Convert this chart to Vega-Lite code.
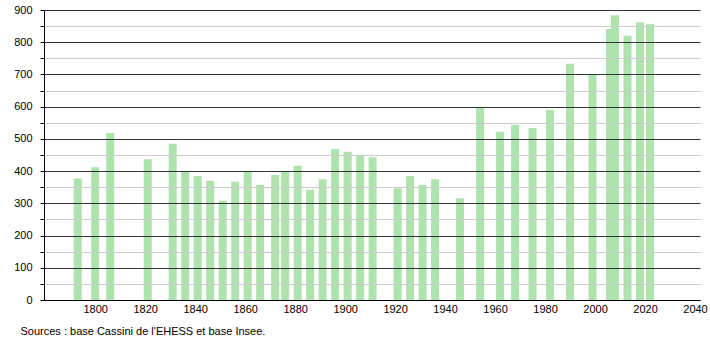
{
  "$schema": "https://vega.github.io/schema/vega-lite/v6.json",
  "autosize": {"type": "none"},
  "width": 656,
  "height": 290,
  "padding": {"left": 44, "top": 10, "right": 10, "bottom": 40},
  "background": "white",
  "config": {
    "view": {"stroke": null},
    "font": "Liberation Sans"
  },
  "data": {
    "values": [
      {"year": 1793, "pop": 377}, {"year": 1800, "pop": 412}, {"year": 1806, "pop": 518},
      {"year": 1821, "pop": 437}, {"year": 1831, "pop": 485}, {"year": 1836, "pop": 400},
      {"year": 1841, "pop": 385}, {"year": 1846, "pop": 370}, {"year": 1851, "pop": 308},
      {"year": 1856, "pop": 367}, {"year": 1861, "pop": 398}, {"year": 1866, "pop": 357},
      {"year": 1872, "pop": 388}, {"year": 1876, "pop": 400}, {"year": 1881, "pop": 417},
      {"year": 1886, "pop": 342}, {"year": 1891, "pop": 375}, {"year": 1896, "pop": 469},
      {"year": 1901, "pop": 460}, {"year": 1906, "pop": 449}, {"year": 1911, "pop": 443},
      {"year": 1921, "pop": 347}, {"year": 1926, "pop": 385}, {"year": 1931, "pop": 357},
      {"year": 1936, "pop": 375}, {"year": 1946, "pop": 316}, {"year": 1954, "pop": 597},
      {"year": 1962, "pop": 522}, {"year": 1968, "pop": 543}, {"year": 1975, "pop": 534},
      {"year": 1982, "pop": 590}, {"year": 1990, "pop": 733}, {"year": 1999, "pop": 698},
      {"year": 2006, "pop": 841}, {"year": 2008, "pop": 884}, {"year": 2013, "pop": 820},
      {"year": 2018, "pop": 862}, {"year": 2022, "pop": 856}
    ]
  },
  "mark": {"type": "bar", "size": 8, "color": "#aee3ae"},
  "encoding": {
    "x": {
      "field": "year",
      "type": "quantitative",
      "scale": {"domain": [1779.5, 2042], "nice": false, "zero": false, "padding": 0},
      "axis": {
        "values": [1800, 1820, 1840, 1860, 1880, 1900, 1920, 1940, 1960, 1980, 2000, 2020, 2040],
        "format": "d",
        "grid": false,
        "ticks": false,
        "labelPadding": 3,
        "labelFontSize": 11,
        "labelColor": "#000",
        "domainColor": "#000",
        "labelFlush": false,
        "zindex": 1,
        "title": "Sources : base Cassini de l'EHESS et base Insee.",
        "titleFontSize": 11,
        "titleFontWeight": "normal",
        "titleColor": "#000",
        "titleAnchor": "start",
        "titleAlign": "left",
        "titleBaseline": "alphabetic",
        "titleX": -24,
        "titleY": 34
      }
    },
    "y": {
      "field": "pop",
      "type": "quantitative",
      "scale": {"domain": [0, 900], "nice": false},
      "axis": {
        "values": [0, 50, 100, 150, 200, 250, 300, 350, 400, 450, 500, 550, 600, 650, 700, 750, 800, 850, 900],
        "labelExpr": "datum.value % 100 === 0 ? datum.label : ''",
        "grid": true,
        "gridColor": {"condition": {"test": "datum.value % 100 === 0", "value": "#333333"}, "value": "#cccccc"},
        "gridWidth": 1,
        "tickSize": 4,
        "tickColor": "#000",
        "domainColor": "#000",
        "labelPadding": 8,
        "labelFontSize": 11,
        "labelColor": "#000",
        "zindex": 1,
        "title": null
      }
    }
  }
}
